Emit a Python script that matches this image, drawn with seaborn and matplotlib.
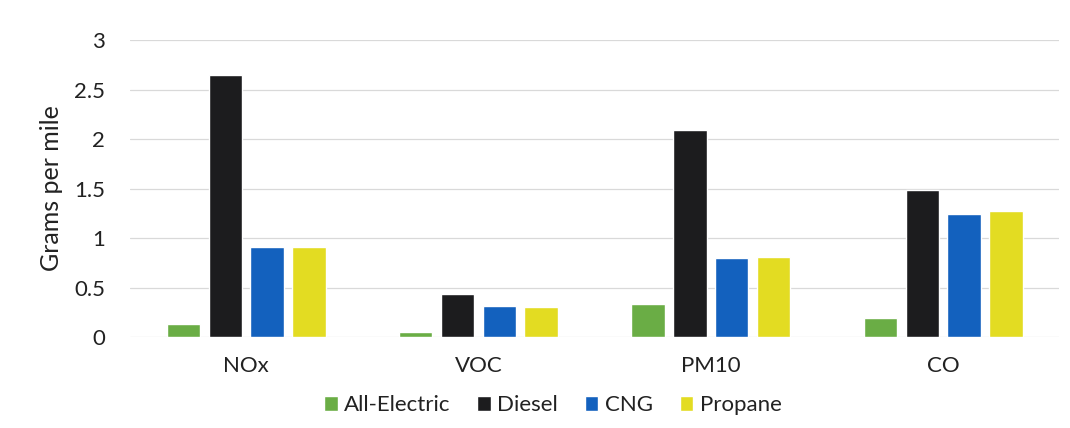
import pandas as pd
import seaborn as sns
import matplotlib.pyplot as plt

# Emission values (grams per mile)
pollutants = ['NOx', 'VOC', 'PM10', 'CO']
fuels = ['All-Electric', 'Diesel', 'CNG', 'Propane']
all_electric = [0.13, 0.05, 0.33, 0.19]
diesel = [2.65, 0.43, 2.09, 1.49]
cng = [0.91, 0.31, 0.80, 1.24]
propane = [0.91, 0.30, 0.81, 1.27]

colors = ['#6aad45', '#1c1c1e', '#1361be', '#e3dc22']

rows = []
for fuel, vals in zip(fuels, [all_electric, diesel, cng, propane]):
    for p, v in zip(pollutants, vals):
        rows.append({'pollutant': p, 'fuel': fuel, 'value': v})
df = pd.DataFrame(rows)

sns.set_style("white")
plt.rcParams['font.family'] = ['Lato', 'DejaVu Sans']

fig = plt.figure(figsize=(10.7, 4.28), dpi=100)
ax = fig.add_axes([0.1215, 0.2126, 0.8685, 0.6939])

sns.barplot(data=df, x='pollutant', y='value', hue='fuel', order=pollutants,
            hue_order=fuels, palette=colors, width=0.72, gap=0.2,
            saturation=1, ax=ax, legend=True)

ax.set_ylim(0, 3)
ax.set_yticks([0, 0.5, 1, 1.5, 2, 2.5, 3])
ax.set_yticklabels(['0', '0.5', '1', '1.5', '2', '2.5', '3'])
ax.yaxis.grid(True, color='#d9d9d9', linewidth=0.9)
ax.set_axisbelow(True)
for s in ax.spines.values():
    s.set_visible(False)
ax.tick_params(axis='both', length=0, labelsize=16, colors='#222222')
ax.tick_params(axis='x', pad=14)
ax.tick_params(axis='y', pad=18)
ax.set_xlabel('')
ax.set_ylabel('Grams per mile', fontsize=18, color='#222222', labelpad=8)

ax.legend(loc='center', bbox_to_anchor=(0.455, -0.23), ncol=4, frameon=False,
          fontsize=16, handlelength=0.6, handleheight=0.6, handletextpad=0.3,
          columnspacing=1.2, labelcolor='#222222')

fig.savefig('out.png', dpi=100)
